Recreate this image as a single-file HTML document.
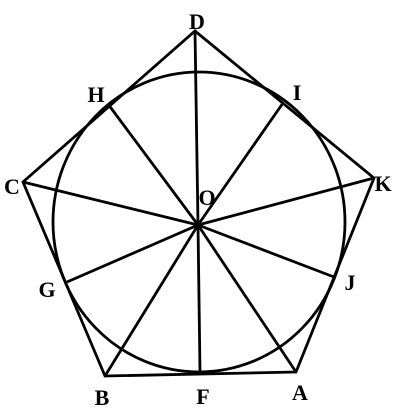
<!DOCTYPE html>
<html><head><meta charset="utf-8"><style>
html,body{margin:0;padding:0;background:#fff;width:400px;height:420px;overflow:hidden}
text{font-family:"Liberation Serif",serif;font-weight:bold;font-size:22px;fill:#000;text-anchor:middle}
</style></head><body>
<svg width="400" height="420" viewBox="0 0 400 420">
<g stroke="#000" stroke-width="2.8" fill="none">
<polygon points="195,31 374,178 296,372 105,376 23,182"/>
<ellipse cx="199" cy="222" rx="146" ry="150"/>
<g>
<line x1="198" y1="225" x2="195" y2="31"/>
<line x1="198" y1="225" x2="108" y2="104"/>
<line x1="198" y1="225" x2="283" y2="103"/>
<line x1="198" y1="225" x2="23" y2="182"/>
<line x1="198" y1="225" x2="374" y2="178"/>
<line x1="198" y1="225" x2="67" y2="282"/>
<line x1="198" y1="225" x2="334" y2="277"/>
<line x1="198" y1="225" x2="200" y2="372"/>
<line x1="198" y1="225" x2="105" y2="376"/>
<line x1="198" y1="225" x2="296" y2="372"/>
</g>
</g>
<circle cx="198" cy="225" r="3.5" fill="#000"/>
<g>
<text x="197" y="29">D</text>
<text x="96" y="102">H</text>
<text x="297" y="100">I</text>
<text x="12" y="194">C</text>
<text x="207" y="205">O</text>
<text x="383" y="191">K</text>
<text x="47" y="297">G</text>
<text x="350" y="290">J</text>
<text x="102" y="405">B</text>
<text x="203" y="404">F</text>
<text x="300" y="400">A</text>
</g>
</svg>
</body></html>
